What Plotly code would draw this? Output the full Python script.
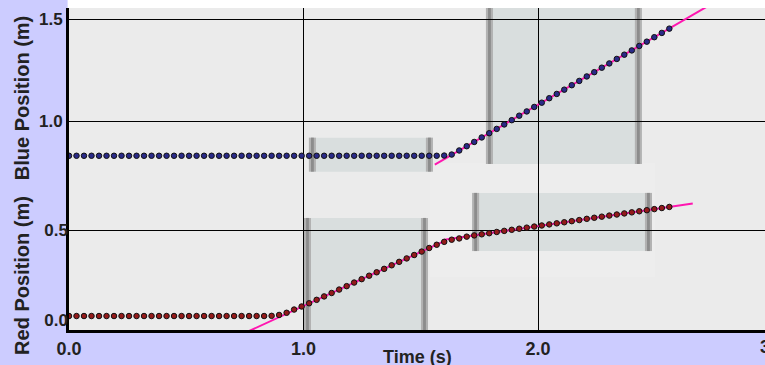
import plotly.graph_objects as go

# ---------------- data ----------------
time_s = [0.000, 0.032, 0.064, 0.096, 0.128, 0.160, 0.192, 0.224, 0.256, 0.288,
          0.320, 0.352, 0.384, 0.416, 0.448, 0.480, 0.512, 0.544, 0.576, 0.608,
          0.640, 0.672, 0.704, 0.736, 0.768, 0.800, 0.832, 0.864, 0.896, 0.928,
          0.960, 0.992, 1.024, 1.056, 1.088, 1.120, 1.152, 1.184, 1.216, 1.248,
          1.280, 1.312, 1.344, 1.376, 1.408, 1.440, 1.472, 1.504, 1.536, 1.568,
          1.600, 1.632, 1.664, 1.696, 1.728, 1.760, 1.792, 1.824, 1.856, 1.888,
          1.920, 1.952, 1.984, 2.016, 2.048, 2.080, 2.112, 2.144, 2.176, 2.208,
          2.240, 2.272, 2.304, 2.336, 2.368, 2.400, 2.432, 2.464, 2.496, 2.528,
          2.560]

blue_pos = [0.830, 0.830, 0.830, 0.830, 0.830, 0.830, 0.830, 0.830, 0.830, 0.830,
            0.830, 0.830, 0.830, 0.830, 0.830, 0.830, 0.830, 0.830, 0.830, 0.830,
            0.830, 0.830, 0.830, 0.830, 0.830, 0.830, 0.830, 0.830, 0.830, 0.830,
            0.830, 0.830, 0.830, 0.830, 0.830, 0.830, 0.830, 0.830, 0.830, 0.830,
            0.830, 0.830, 0.830, 0.830, 0.830, 0.830, 0.830, 0.830, 0.830, 0.830,
            0.831, 0.836, 0.856, 0.877, 0.898, 0.920, 0.941, 0.962, 0.984, 1.005,
            1.027, 1.048, 1.070, 1.091, 1.113, 1.134, 1.155, 1.177, 1.198, 1.220,
            1.241, 1.263, 1.284, 1.306, 1.327, 1.348, 1.370, 1.391, 1.413, 1.434,
            1.455]

red_pos = [0.022, 0.022, 0.022, 0.022, 0.022, 0.022, 0.022, 0.022, 0.022, 0.022,
           0.022, 0.022, 0.022, 0.022, 0.022, 0.022, 0.022, 0.022, 0.022, 0.022,
           0.022, 0.022, 0.022, 0.022, 0.022, 0.022, 0.022, 0.023, 0.028, 0.040,
           0.058, 0.075, 0.093, 0.112, 0.131, 0.150, 0.169, 0.188, 0.208, 0.227,
           0.246, 0.265, 0.284, 0.304, 0.323, 0.342, 0.361, 0.380, 0.400, 0.418,
           0.434, 0.446, 0.453, 0.463, 0.470, 0.476, 0.482, 0.489, 0.495, 0.501,
           0.507, 0.513, 0.519, 0.525, 0.531, 0.537, 0.543, 0.549, 0.555, 0.562,
           0.568, 0.574, 0.580, 0.586, 0.592, 0.598, 0.604, 0.610, 0.616, 0.622,
           0.628]

# linear fits (end points of each fitted segment)
blue_fit_t = [1.56, 2.75]
blue_fit_y = [0.786, 1.583]
red_fit1_t = [0.70, 1.60]
red_fit1_y = [-0.102, 0.438]
red_fit2_t = [1.60, 2.66]
red_fit2_y = [0.446, 0.647]

# selected ranges: (t start, t end, y low, y high)
blue_sel = [(1.023, 1.552, 0.752, 0.919), (1.778, 2.443, 0.790, 1.60)]
red_sel = [(1.002, 1.531, -0.10, 0.567), (1.719, 2.486, 0.383, 0.706)]
red_halo = [(1.539, 2.499, 0.239, 0.872)]

x_range = [0, 2.968]
x_ticks = [0, 1, 2]
x_ticktext = ["0.0", "1.0", "2.0"]
blue_ticks = [1.0, 1.5]
blue_ticktext = ["1.0", "1.5"]
red_ticks = [0.0, 0.5]
red_ticktext = ["0.0", "0.5"]
red_grid = 0.4972

FONT = "Liberation Sans, Arial, sans-serif"
FIT = "#ff16b0"

fig = go.Figure()

# fit lines (under the points)
fig.add_trace(go.Scatter(x=blue_fit_t, y=blue_fit_y, mode="lines",
                         line=dict(color=FIT, width=2), yaxis="y"))
fig.add_trace(go.Scatter(x=red_fit1_t, y=red_fit1_y, mode="lines",
                         line=dict(color=FIT, width=2), yaxis="y2"))
fig.add_trace(go.Scatter(x=red_fit2_t, y=red_fit2_y, mode="lines",
                         line=dict(color=FIT, width=2), yaxis="y2"))

fig.add_trace(go.Scatter(x=time_s, y=blue_pos, mode="markers", yaxis="y",
                         marker=dict(size=5.5, color="#2a2a88",
                                     line=dict(color="#111111", width=1))))
fig.add_trace(go.Scatter(x=time_s, y=red_pos, mode="markers", yaxis="y2",
                         marker=dict(size=5.5, color="#941a1a",
                                     line=dict(color="#111111", width=1))))

shapes = []


def add_box(x0, x1, y0, y1, yref):
    shapes.append(dict(type="rect", xref="x", yref=yref, x0=x0, x1=x1, y0=y0, y1=y1,
                       fillcolor="#d9dede", line=dict(width=0), layer="below"))
    for bx0, bx1 in ((x0, x0 + 0.03), (x1 - 0.03, x1)):
        shapes.append(dict(type="rect", xref="x", yref=yref, x0=bx0, x1=bx1,
                           y0=y0, y1=y1, fillcolor="#b2b2b2", line=dict(width=0),
                           layer="below"))
        shapes.append(dict(type="rect", xref="x", yref=yref, x0=bx0 + 0.009,
                           x1=bx1 - 0.009, y0=y0, y1=y1, fillcolor="#8c8c8c",
                           line=dict(width=0), layer="below"))


for (x0, x1, y0, y1) in red_halo:
    shapes.append(dict(type="rect", xref="x", yref="y2", x0=x0, x1=x1, y0=y0, y1=y1,
                       fillcolor="#ededed", line=dict(width=0), layer="below"))
for b in blue_sel:
    add_box(*b, "y")
for b in red_sel:
    add_box(*b, "y2")

# red 0.5 grid line (same layer as the red boxes, drawn over them)
shapes.append(dict(type="line", xref="x", yref="y2", x0=x_range[0], x1=x_range[1],
                   y0=red_grid, y1=red_grid, line=dict(color="black", width=1),
                   layer="below"))
# white strip above plot
shapes.append(dict(type="rect", xref="paper", yref="paper", x0=-0.002, x1=1.01,
                   y0=1.0, y1=1.04, fillcolor="white", line=dict(width=0), layer="above"))

annotations = [
    dict(text="Blue Position (m)", xref="paper", yref="paper", x=-0.0675, y=0.72,
         textangle=-90, showarrow=False, xanchor="center", yanchor="middle",
         font=dict(family=FONT, size=20, color="#222222", weight="bold")),
    dict(text="Red Position (m)", xref="paper", yref="paper", x=-0.0675, y=0.168,
         textangle=-90, showarrow=False, xanchor="center", yanchor="middle",
         font=dict(family=FONT, size=20, color="#222222", weight="bold")),
    dict(text="Time (s)", xref="paper", yref="paper", x=0.5014, y=-0.085,
         showarrow=False, xanchor="center", yanchor="middle",
         font=dict(family=FONT, size=18, color="#222222", weight="bold")),
    dict(text="3.0", xref="paper", yref="paper", x=1.0108, y=-0.0525,
         showarrow=False, xanchor="center", yanchor="middle",
         font=dict(family=FONT, size=18, color="#222222", weight="bold")),
]

fig.update_layout(
    width=765, height=365,
    margin=dict(l=69, r=0, t=8, b=35),
    paper_bgcolor="#ccccff",
    plot_bgcolor="#ebebeb",
    showlegend=False,
    shapes=shapes,
    annotations=annotations,
    xaxis=dict(range=x_range, tickvals=x_ticks, ticktext=x_ticktext,
               showgrid=True, gridcolor="black", gridwidth=1,
               showline=True, linecolor="black", linewidth=3, zeroline=False,
               ticks="", ticklabelstandoff=0,
               tickfont=dict(family=FONT, size=18, color="#222222", weight="bold")),
    yaxis=dict(range=[-0.0266, 1.5565], tickvals=blue_ticks, ticktext=blue_ticktext,
               showgrid=True, gridcolor="black", gridwidth=1,
               showline=True, linecolor="black", linewidth=3, zeroline=False,
               ticks="", tickfont=dict(family=FONT, size=17, color="#222222",
                                       weight="bold")),
    yaxis2=dict(range=[-0.0556, 1.7333], tickvals=red_ticks, ticktext=red_ticktext,
                overlaying="y", side="left", anchor="x",
                showgrid=False, showline=False, zeroline=False,
                ticks="", tickfont=dict(family=FONT, size=17, color="#222222",
                                        weight="bold")),
)

fig.write_html("out.html", config={"displayModeBar": False},
               post_script="document.body.style.margin='0px';"
                           "document.body.style.overflow='hidden';")
